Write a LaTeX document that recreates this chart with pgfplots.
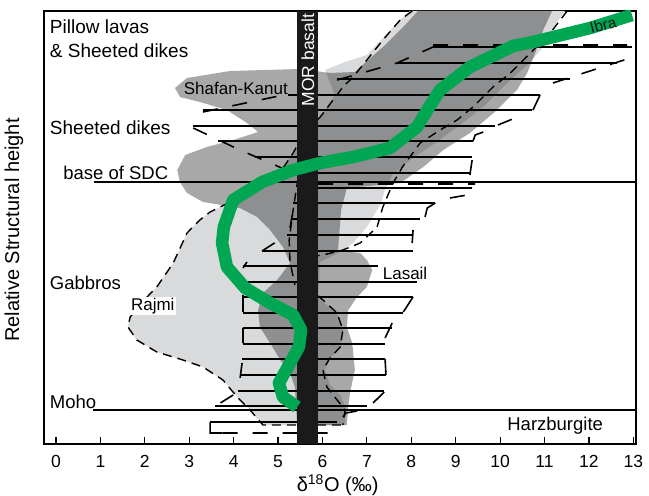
\documentclass[border=0pt]{standalone}
\usepackage{fontspec}
\setmainfont{Liberation Sans}
\usepackage{pgfplots}
\pgfplotsset{compat=1.18}
\definecolor{lgray}{HTML}{D9DADB}
\definecolor{ibra}{HTML}{00A651}
\definecolor{barc}{HTML}{1A1A1A}
\begin{document}
\begin{tikzpicture}
\useasboundingbox (-44pt,-52pt) rectangle (605pt,444pt);
\begin{axis}[
  at={(0,0)}, anchor=south west,
  scale only axis, width=592pt, height=433pt,
  xmin=-0.27, xmax=13.06, ymin=0, ymax=433,
  axis line style={line width=1.6pt},
  xtick={0,1,...,13}, ytick=\empty,
  xtick pos=bottom, tick align=inside,
  major tick length=7pt,
  every tick/.style={black, line width=1.2pt},
  /pgf/number format/assume math mode=true,
  xticklabel style={font=\fontsize{17.5}{20}\selectfont, inner sep=0pt, yshift=-11pt},
  xlabel={δ\textsuperscript{18}O (‰)},
  xlabel style={font=\fontsize{20}{24}\selectfont, at={(axis description cs:0.496,-0.0947)}, anchor=center},
  ylabel={Relative Structural height},
  ylabel style={font=\fontsize{20}{24}\selectfont, at={(axis description cs:-0.0507,0.494)}, anchor=center},
  clip=true,
]
% light gray field
\addplot[fill=lgray, draw=none] coordinates {
(7.97,433) (11.46,433) (11.24,419) (11.01,399) (10.68,382) (10.23,364) (9.66,339) (9.10,319) (8.54,301) (7.97,284) (7.57,269) (7.41,254) (7.30,239) (7.00,217) (6.69,201) (6.40,192) (5.95,182) (5.90,146) (6.33,131) (6.46,114) (6.40,97) (6.17,86) (6.06,74) (6.17,59) (6.40,49) (6.51,37) (6.51,19) (4.66,19) (4.37,34) (4.08,47) (3.76,64) (3.31,77) (2.86,84) (2.27,92) (1.82,104) (1.62,117) (1.67,127) (2.05,147) (2.27,157) (2.64,181) (2.95,211) (3.24,224) (3.47,232) (3.92,242) (4.37,251) (4.98,267) (5.34,291) (5.95,327) (6.28,349) (6.06,374) (6.51,382) (7.00,389) (7.36,406) (7.70,422)
} -- cycle;
% medium gray fields (Shafan-Kanut, Lasail)
\addplot[fill=black, fill opacity=0.34, draw=none] coordinates {
(3.92,373) (5.50,375) (6.17,371) (6.73,372) (7.03,384) (7.41,399) (7.86,419) (8.15,433) (11.17,433) (10.97,414) (10.79,391) (10.61,371) (10.38,354) (9.93,334) (9.32,311) (8.72,294) (8.27,277) (7.75,261) (6.55,256) (6.42,234) (6.35,194) (6.85,191) (7.00,184) (7.12,174) (7.00,157) (6.78,147) (6.58,134) (6.55,117) (6.67,101) (6.73,74) (6.62,51) (6.58,37) (6.55,19) (5.43,19) (5.38,57) (5.27,71) (5.05,84) (4.82,101) (4.59,117) (4.55,134) (4.66,151) (4.98,164) (5.27,181) (5.11,197) (4.82,214) (4.53,227) (4.14,236) (3.31,242) (2.95,251) (2.79,262) (2.73,274) (2.91,289) (3.40,297) (3.99,304) (4.55,312) (4.30,321) (3.85,334) (3.24,342) (2.79,347) (2.68,356) (2.95,366)
} -- cycle;
% Ibra hatching
\addplot[black, line width=1.2pt, unbounded coords=jump] table {
x y
8.49 397
12.97 397
nan nan
7.68 381
12.64 381
nan nan
6.33 365
11.58 365
nan nan
5.23 349
10.90 349
nan nan
3.31 334
10.72 334
nan nan
3.09 318
9.89 318
nan nan
3.65 303
9.39 303
nan nan
4.48 287
9.37 287
nan nan
5.45 271
9.32 271
nan nan
5.45 256
9.37 256
nan nan
5.34 241
8.54 241
nan nan
5.29 225
8.20 225
nan nan
5.20 209
8.04 209
nan nan
4.64 193
8.04 193
nan nan
4.21 178
7.25 178
nan nan
4.21 162
8.13 162
nan nan
4.21 147
8.04 147
nan nan
4.21 131
7.82 131
nan nan
4.21 116
7.57 116
nan nan
4.21 100
7.41 100
nan nan
4.19 85
7.41 85
nan nan
4.14 69
7.43 69
nan nan
4.10 53
7.39 53
nan nan
3.58 38
7.00 38
nan nan
3.47 22
6.33 22
};
% brackets
\addplot[black, line width=1.6pt, unbounded coords=jump] table {
x y
10.90 349
10.74 334
nan nan
9.39 303
9.44 309
9.62 312
nan nan
9.37 284
9.32 269
nan nan
8.54 241
8.36 236
8.31 227
nan nan
8.04 214
8.02 201
nan nan
8.04 147
7.82 132
nan nan
7.57 121
7.41 106
nan nan
7.41 85
7.43 69
nan nan
7.39 52
7.14 41
nan nan
6.46 27
6.53 31
6.78 33
nan nan
4.21 149
4.21 132
nan nan
4.21 116
4.21 101
nan nan
4.21 176
4.30 182
nan nan
5.32 229
5.27 216
nan nan
3.47 22
3.47 11
3.75 11
};
% long-dash envelopes
\addplot[black, line width=1.6pt, dash pattern=on 15pt off 15pt, unbounded coords=jump] table {
x y
8.49 399
12.86 399
nan nan
11.19 361
13.00 387
nan nan
6.33 364
7.68 381
8.49 397
nan nan
3.31 332
5.23 350
nan nan
3.09 316
4.14 294
4.93 279
5.43 269
nan nan
9.95 319
10.45 328
nan nan
8.87 246
9.26 249
nan nan
4.64 193
5.20 209
nan nan
4.19 81
4.14 64
nan nan
3.99 49
3.63 39
nan nan
3.75 11
6.17 11
nan nan
5.90 260
9.44 260
};
% short-dash field boundaries
\addplot[black, line width=1.4pt, dash pattern=on 9pt off 6pt, unbounded coords=jump] table {
x y
8.02 433
7.75 424
7.36 404
7.00 384
6.69 367
6.46 357
6.24 344
5.95 327
5.50 304
5.34 291
4.98 267
4.37 251
3.92 242
3.47 232
3.24 224
2.95 211
2.64 181
2.27 157
2.05 147
1.67 127
1.62 117
1.82 104
2.27 92
2.86 84
3.31 77
3.76 64
4.08 47
4.37 34
4.66 19
6.46 19
nan nan
11.51 433
11.13 411
10.68 391
10.23 371
9.84 357
9.39 337
9.03 324
8.65 314
8.20 301
7.80 277
7.59 261
7.36 237
7.23 217
6.85 201
6.46 194
6.01 189
5.65 187
nan nan
5.90 148
6.01 144
6.33 131
6.46 114
6.40 97
6.17 86
6.01 74
6.10 57
6.33 44
6.51 34
6.46 19
nan nan
5.45 266
5.34 234
5.25 204
5.27 182
5.38 159
};
% base of SDC and Moho
\addplot[black, line width=1.3pt] coordinates {(0.86,262) (13.06,262)};
\addplot[black, line width=1.3pt] coordinates {(0.83,34) (13.06,34)};
% MOR basalt bar
\addplot[fill=barc, draw=none] coordinates {(5.43,0) (5.90,0) (5.90,433) (5.43,433)} -- cycle;
% Ibra trend
\addplot[ibra, line width=12.5pt, line join=round] coordinates {
(12.97,429) (12.03,416) (10.74,402) (10.29,398) (9.32,377) (8.65,354) (8.36,334) (8.13,317) (7.52,296) (6.69,287) (5.95,281) (5.34,274) (4.64,262) (3.99,244) (3.78,217) (3.74,201) (3.85,177) (4.26,156) (4.82,141) (5.34,129) (5.52,114) (5.47,97) (5.27,81) (5.02,61) (5.11,47) (5.43,37)
};
% labels
\node[anchor=west, inner sep=0pt, font=\fontsize{19}{22}\selectfont] at (axis cs:-0.14,417) {Pillow lavas};
\node[anchor=west, inner sep=0pt, font=\fontsize{19}{22}\selectfont] at (axis cs:-0.14,393) {\& Sheeted dikes};
\node[anchor=west, inner sep=0pt, font=\fontsize{19}{22}\selectfont] at (axis cs:-0.14,316) {Sheeted dikes};
\node[anchor=west, inner sep=0pt, font=\fontsize{18.5}{22}\selectfont] at (axis cs:0.16,271) {base of SDC};
\node[anchor=west, inner sep=0pt, font=\fontsize{18.5}{22}\selectfont] at (axis cs:-0.14,161) {Gabbros};
\node[anchor=west, inner sep=0pt, font=\fontsize{18.5}{22}\selectfont] at (axis cs:-0.14,42) {Moho};
\node[inner sep=0pt, font=\fontsize{18.5}{22}\selectfont] at (axis cs:11.24,18) {Harzburgite};
\node[inner sep=0pt, font=\fontsize{17}{20}\selectfont] at (axis cs:4.05,356) {Shafan-Kanut};
\node[fill=white, inner sep=1.5pt, font=\fontsize{17}{20}\selectfont] at (axis cs:2.18,138) {Rajmi};
\node[inner sep=0pt, font=\fontsize{17}{20}\selectfont] at (axis cs:7.86,171) {Lasail};
\node[inner sep=0pt, rotate=15, text=barc, font=\fontsize{15.5}{18}\selectfont] at (axis cs:12.32,419) {Ibra};
\node[inner sep=0pt, rotate=90, text=white, font=\fontsize{17.5}{20}\selectfont] at (axis cs:5.67,384) {MOR basalt};
\end{axis}
\end{tikzpicture}
\end{document}
